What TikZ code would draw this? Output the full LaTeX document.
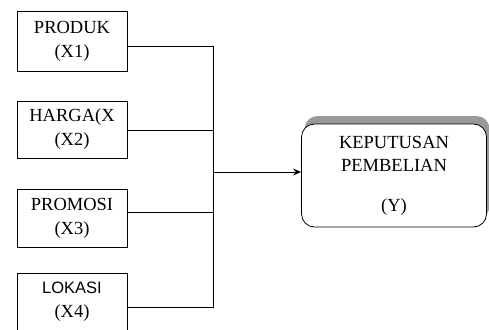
\documentclass[tikz,border=0pt]{standalone}
\usepackage{fontspec}
\setmainfont{Liberation Serif}
\newfontfamily\lokasifont{Liberation Sans}
\usetikzlibrary{shadows,arrows.meta}

\tikzset{
	varbox/.style={draw, line width=0.8pt, minimum width=110pt, align=center,
		font=\fontsize{18.5}{24}\selectfont},
	hasilbox/.style={draw, line width=0.8pt, rounded corners=13pt, minimum width=185pt,
		minimum height=103pt, align=center, fill=white,
		font=\fontsize{18.5}{23}\selectfont,
		drop shadow={shadow xshift=3pt, shadow yshift=8pt, fill=black!40, opacity=1}},
	garis/.style={line width=0.8pt}
}

\begin{document}
\begin{tikzpicture}[x=1pt, y=-1pt]

\clip (0,0) rectangle (489,329);

% variabel bebas
\node[varbox, minimum height=60pt] (produk) at (72,41) {PRODUK\\(X1)};
\node[varbox, minimum height=57pt] (harga) at (72,129.5) {HARGA(X\\(X2)};
\node[varbox, minimum height=58pt] (promosi) at (72,218) {PROMOSI\\(X3)};
\node[varbox, minimum height=58pt] (lokasi) at (72,302) {{\lokasifont\fontsize{16.5}{24}\selectfont LOKASI}\\(X4)};

% variabel terikat
\node[hasilbox] (keputusan) at (394,175.5) {KEPUTUSAN\\PEMBELIAN\\[17pt](Y)};

\coordinate (jn) at (213,172);

\draw[garis] ([yshift=-5pt]produk.east) -| (jn);
\draw[garis] ([yshift=-5pt]lokasi.east) -| (jn);
\foreach \b/\d in {harga/-0.5, promosi/6} {
	\draw[garis] ([yshift=\d pt]\b.east) -- ([yshift=\d pt]\b.east -| jn);
}
\draw[garis, -{Stealth[length=8pt, width=7pt]}] (jn) -- (jn -| keputusan.west);

\end{tikzpicture}
\end{document}
